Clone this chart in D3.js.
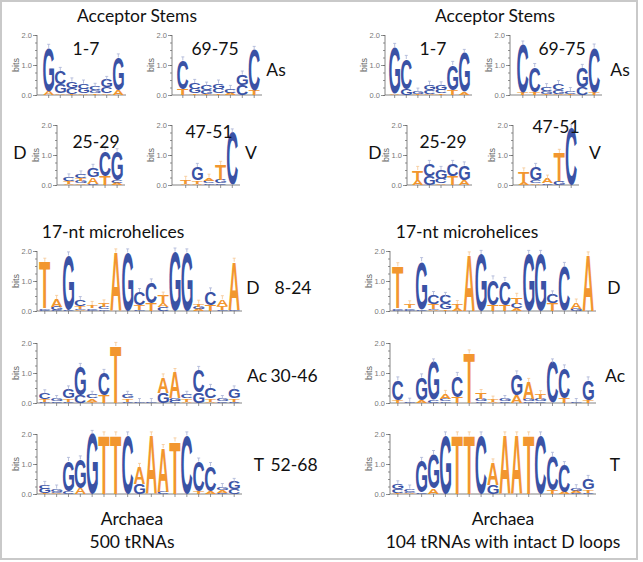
<!DOCTYPE html>
<html><head><meta charset="utf-8">
<script src="https://cdn.jsdelivr.net/npm/d3@7"></script>
<style>body{margin:0;background:#fff}svg{display:block}</style>
</head><body>
<svg id="c" width="643" height="562"></svg>
<script>
// ---------- DATA (letters listed bottom -> top, value in bits) ----------
// Archaea, 500 tRNAs
const acc500_1_7   = ["A.12 G1.45","A.05 G.3 C.45","T.03 C.2 G.22","A.05 G.15 C.18","T.05 G.1 C.12","A.05 C.2 G.25","A.15 G1.1"];
const acc500_69_75 = ["T.2 C.95","T.05 G.15 C.2","T.04 G.12 C.15","T.05 C.15 G.18","A.08 C.12","C.33 G.35","T.15 C1.35"];
const acc500_25_29 = ["A.03 T.1 C.12","A.05 G.08 T.1 C.12","C.05 A.22 G.3","T.3 C.85","A.06 C.08 G.95"];
const acc500_47_51 = ["A.05 T.12","A.05 T.1 G.45","G.06 C.08 A.1","C.05 G.12 T.5","C1.75"];
const mh500_D  = ["C.04 G.05 T1.55","C.03 G.12 A.25","C.05 G1.8","A.03 G.05 T.08 C.2","G.04 C.06 T.1","G.05 C.08 T.12","A1.95","G1.95","G.03 T.15 C.45","T.25 C.7","C.12 A.14 T.25","G1.98","G1.95","A.06 G.08 T.1","T.2 C.45","G.05 T.12 A.22","G.04 A1.6"];
const mh500_Ac = ["G.05 T.07 C.2","C.05 G.08","C.05 T.1 G.3","C.25 G.95","T.05 A.1 C.12","T.25 C.75","T1.9","C.05 T.1 G.12","G.03","G.03","G.35 A.5","C.08 G.1 A.85","A.05 T.1 C.12","G.35 C.75","A.05 T.1 C.35","C.05 G.08","C.05 T.1 G.3"];
const mh500_T  = ["T.03 G.15 C.12","A.03 C.05 G.1","C.08 G1.02","A.2 G.95","G2.0","T1.95","T1.95","C1.95","G.35 A.55","A1.95","C.08 A1.45","T1.75","C1.95","T.08 C1.0","A.08 C.85","C.05 A.08 G.1","C.15 G.25"];
// Archaea, 104 tRNAs with intact D loops
const acc104_1_7   = ["A.05 G1.55","G.2 C1.0","T.03 G.08","A.04 C.12 G.18","T.05 C.12 G.15","T.15 G.85","A.1 G1.3"];
const acc104_69_75 = ["T.08 C1.6","T.08 C.85","T.04 G.1 C.12","A.04 G.12 C.2","T.03 C.1","C.25 G.65","T.08 C1.5"];
const acc104_25_29 = ["A.15 T.35","G.3 C.4","A.05 C.15 G.3","T.3 C.4","A.15 G.5"];
const acc104_47_51 = ["A.1 T.35","A.05 C.1 G.45","C.06 A.15","G.12 T.95","C1.9"];
const mh104_D  = ["G.04 C.05 T1.4","G.04 C.06 T.12","C.06 G1.6","A.03 G.05 T.15 C.3","T.05 G.2 C.25","A.08 T.15","A1.85","G1.9","T.2 C.85","T.2 C.8","A.1 C.15 T.22","G1.9","G1.9","T.25 C.3","C1.5","G.08 A.2","A1.85"];
const mh104_Ac = ["T.1 C.65","G.04","A.1 G.75","C.1 G1.25","G.05 C.1 A.15","T.2 C.7","T1.65","C.05 G.08 T.2","A.03 T.08","C.05 G.08","A.25 G.7","C.05 G.1 A.55","C.06 G.08 T.15","C1.35","T.15 C1.0","G.03","T.1 G.65"];
const mh104_T  = ["T.04 C.12 G.16","A.03 G.05 C.1","C.05 G1.05","A.18 G1.15","G1.95","T1.95","T1.95","C1.95","G.3 A.75","A1.95","A1.95","T1.95","C1.95","T.12 C1.15","A.06 C.9","C.05 A.06 G.08","C.05 T.1 G.35"];

const yTickLabels = ["0.0","1.0","2.0"];
const axisTitle = "bits";

// ---------- LAYOUT ----------
const BIT_PX = 30;
const logos = [
  {d:acc500_1_7,   ax:37,  x0:43,  x1:124, base:95},
  {d:acc500_69_75, ax:172, x0:177, x1:260, base:95},
  {d:acc500_25_29, ax:57,  x0:63,  x1:123, base:185},
  {d:acc500_47_51, ax:172, x0:180, x1:238, base:185},
  {d:mh500_D,      ax:37,  x0:39,  x1:240, base:311},
  {d:mh500_Ac,     ax:37,  x0:39,  x1:240, base:403},
  {d:mh500_T,      ax:37,  x0:39,  x1:240, base:494},
  {d:acc104_1_7,   ax:385, x0:389, x1:470, base:95},
  {d:acc104_69_75, ax:510, x0:517, x1:600, base:95},
  {d:acc104_25_29, ax:407, x0:412, x1:470, base:185},
  {d:acc104_47_51, ax:513, x0:518, x1:577, base:185},
  {d:mh104_D,      ax:390, x0:392, x1:594, base:311},
  {d:mh104_Ac,     ax:390, x0:392, x1:594, base:403},
  {d:mh104_T,      ax:390, x0:392, x1:594, base:494}
];
const labels = [
  ["Acceptor Stems",137,22],["1-7",86,55],["69-75",215,55],["As",276,76],
  ["25-29",96,148],["D",20,159],["47-51",209,138],["V",251,159],
  ["17-nt microhelices",113,238],["D",253,294],["Ac",257,382],["T",259,471],
  ["Archaea",132,525],["500 tRNAs",132,548],
  ["8-24",293,294],["30-46",294,382],["52-68",294,471],
  ["Acceptor Stems",495,22],["1-7",433,55],["69-75",562,55],["As",620,76],
  ["25-29",443,148],["D",375,159],["47-51",556,133],["V",595,159],
  ["17-nt microhelices",467,238],["D",614,294],["Ac",615,382],["T",615,471],
  ["Archaea",503,525],["104 tRNAs with intact D loops",503,548]
];

const COLOR = {A:"#f2962f",T:"#f2962f",C:"#3a52a5",G:"#3a52a5"};
const ERRC  = {A:"#f6c792",T:"#f6c792",C:"#aab3d6",G:"#aab3d6"};

const svg = d3.select("#c");
svg.append("rect").attr("x",1).attr("y",1).attr("width",636).attr("height",558)
   .attr("fill","none").attr("stroke","#c9c9c9").attr("stroke-width",2);

// glyph metrics
const FS = 100;
const ctx = document.createElement("canvas").getContext("2d");
ctx.font = `bold ${FS}px "Liberation Sans"`;
const M = {};
for (const ch of "ACGT") {
  const m = ctx.measureText(ch);
  M[ch] = {l:m.actualBoundingBoxLeft, r:m.actualBoundingBoxRight, a:m.actualBoundingBoxAscent, d:m.actualBoundingBoxDescent};
}
const parse = s => s.trim().split(/\s+/).map(t => ({b:t[0], v:+t.slice(1)}));

logos.forEach(L => {
  const cols = L.d.map(parse);
  const y = d3.scaleLinear().domain([0,2]).range([L.base, L.base - 2*BIT_PX]);
  const x = d3.scaleBand().domain(d3.range(cols.length)).range([L.x0, L.x1]).paddingInner(0.06).paddingOuter(0.02);
  const g = svg.append("g");

  // y axis
  const yMinor = d3.axisLeft(y).tickValues(d3.range(0,2.01,0.25)).tickSize(2).tickFormat("");
  const yMajor = d3.axisLeft(y).tickValues([0,1,2]).tickSize(4).tickFormat((d,i)=>yTickLabels[i]);
  const ga = g.append("g").attr("transform",`translate(${L.ax},0)`);
  ga.call(yMinor);
  const gm = g.append("g").attr("transform",`translate(${L.ax},0)`).call(yMajor);
  g.selectAll(".domain").attr("stroke","#666").attr("stroke-width",0.8);
  g.selectAll(".tick line").attr("stroke","#666").attr("stroke-width",0.7);
  gm.selectAll(".tick text").attr("font-family","Liberation Sans, Arial").attr("font-size",7.5).attr("fill","#777").attr("x",-5);
  gm.select(".domain").remove(); ga.select(".domain").attr("d",`M0,${y(0)}V${y(2)}`);
  g.append("text").attr("transform",`translate(${L.ax-21},${y(1)}) rotate(-90)`)
    .attr("text-anchor","middle").attr("dy","0.35em")
    .attr("font-family","Liberation Sans, Arial").attr("font-size",9).attr("fill","#666").text(axisTitle);

  // x axis baseline + ticks
  const xa = g.append("g").attr("transform",`translate(0,${L.base})`)
    .call(d3.axisBottom(x).tickSize(3).tickFormat(""));
  xa.select(".domain").attr("d",`M${L.ax},0H${L.x1+2}`).attr("stroke","#666").attr("stroke-width",0.8);
  xa.selectAll(".tick line").attr("stroke","#666").attr("stroke-width",0.7);

  // stacks
  cols.forEach((col,i) => {
    let cum = 0;
    const w = x.bandwidth(), xl = x(i);
    col.forEach(o => {
      const yTop = y(cum + o.v), yBot = y(cum);
      const h = yBot - yTop;
      cum += o.v;
      if (h <= 0) return;
      const m = M[o.b];
      const sx = w/(m.l+m.r), sy = h/(m.a+m.d);
      g.append("text").attr("font-family","Liberation Sans, Arial").attr("font-weight","bold")
        .attr("font-size",FS).attr("fill",COLOR[o.b])
        .attr("transform",`translate(${xl + m.l*sx},${yTop + m.a*sy}) scale(${sx},${sy})`)
        .text(o.b);
    });
    // error bar
    const top = col.length ? col[col.length-1].b : "G";
    const cx = xl + w/2, ye = y(cum + 0.12);
    g.append("line").attr("x1",cx).attr("x2",cx).attr("y1",y(cum)).attr("y2",ye).attr("stroke",ERRC[top]).attr("stroke-width",0.8);
    g.append("line").attr("x1",cx-1.5).attr("x2",cx+1.5).attr("y1",ye).attr("y2",ye).attr("stroke",ERRC[top]).attr("stroke-width",0.8);
  });
});

// labels
svg.append("g").selectAll("text").data(labels).join("text")
  .attr("x",d=>d[1]).attr("y",d=>d[2]).attr("text-anchor","middle")
  .attr("font-family","Lato, 'Open Sans', sans-serif").attr("font-size",17.5).attr("fill","#111")
  .text(d=>d[0]);
</script>
</body></html>
